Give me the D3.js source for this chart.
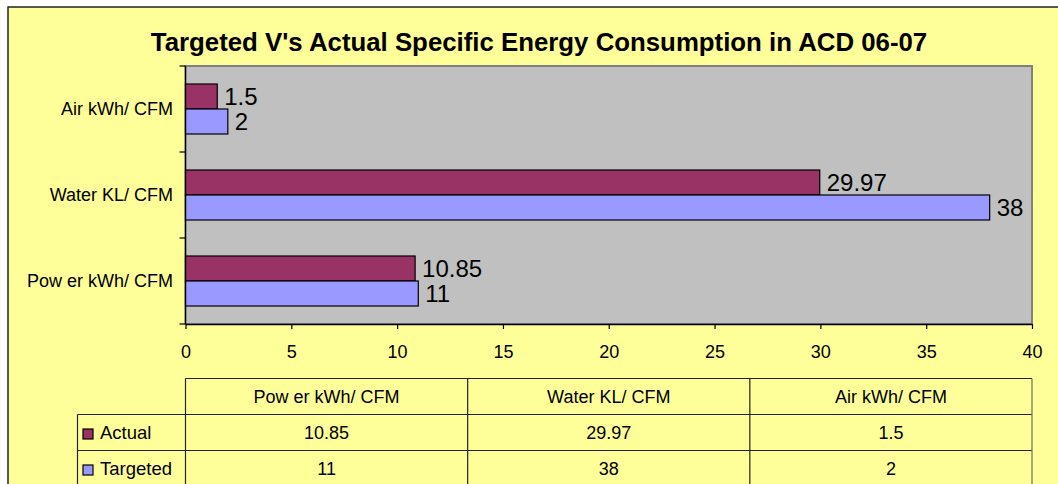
<!DOCTYPE html>
<html>
<head>
<meta charset="utf-8">
<script src="https://cdnjs.cloudflare.com/ajax/libs/d3/7.8.5/d3.min.js"></script>
<style>
  body { margin: 0; background: #fff; }
  svg { display: block; font-family: 'Liberation Sans', Arial, sans-serif; }
</style>
</head>
<body>
<svg></svg>
<script>
// Chart data
let categories = ['Pow er kWh/ CFM', 'Water KL/ CFM', 'Air kWh/ CFM'];
let seriesNames = ['Actual', 'Targeted'];
let actualValues = [10.85, 29.97, 1.5];
let targetedValues = [11, 38, 2];
let xTicks = [0, 5, 10, 15, 20, 25, 30, 35, 40];
let titleText = "Targeted V's Actual Specific Energy Consumption in ACD 06-07";

// Colors
let seriesColors = ['#993366', '#9999FF'];
let chartBg = '#FFFF99', plotBg = '#C0C0C0';

// SVG Dimensions Variables
let width = 1058, height = 484;
let plot = { left: 185.5, right: 1032, top: 66, bottom: 324 };
let table = { left: 77.5, top: 378.5, rowHeight: 36 };

let svg = d3.select('svg').attr('width', width).attr('height', height);

// Scales
let x = d3.scaleLinear().domain([0, 40]).range([plot.left, plot.right]);
let y = d3.scaleBand().domain(categories.slice().reverse()).range([plot.top, plot.bottom]);
let ySeries = d3.scaleBand().domain(seriesNames).range([0, y.bandwidth()]).paddingOuter(0.72);
let xCol = d3.scaleBand().domain(categories).range([plot.left, plot.right]);

let rows = seriesNames.map((name, i) => ({
    name: name,
    color: seriesColors[i],
    values: i === 0 ? actualValues : targetedValues
}));

// Background frame + title
function drawFrame() {
    svg.append('rect')
        .attr('x', 8).attr('y', 7)
        .attr('width', 1200).attr('height', 600)
        .attr('fill', chartBg)
        .attr('stroke', '#222').attr('stroke-width', 1.5);

    svg.append('text')
        .attr('x', 539).attr('y', 50.5)
        .attr('text-anchor', 'middle')
        .attr('font-size', 25.8)
        .attr('font-weight', 'bold')
        .text(titleText);
}

// Bars, axes, value labels
function drawPlot() {
    svg.append('rect')
        .attr('x', plot.left).attr('y', plot.top)
        .attr('width', plot.right - plot.left).attr('height', plot.bottom - plot.top)
        .attr('fill', plotBg)
        .attr('stroke', '#808080').attr('stroke-width', 2);

    let groups = svg.selectAll('g.cat')
        .data(categories)
        .enter()
        .append('g')
        .attr('class', 'cat')
        .attr('transform', (d) => 'translate(0,' + y(d) + ')');

    groups.selectAll('rect')
        .data((d, j) => rows.map((r) => ({ series: r.name, color: r.color, value: r.values[j] })))
        .enter()
        .append('rect')
        .attr('x', x(0))
        .attr('y', (d) => ySeries(d.series))
        .attr('width', (d) => x(d.value) - x(0))
        .attr('height', ySeries.bandwidth())
        .attr('fill', (d) => d.color)
        .attr('stroke', '#000')
        .attr('stroke-width', 1.2);

    groups.selectAll('text')
        .data((d, j) => rows.map((r) => ({ series: r.name, value: r.values[j] })))
        .enter()
        .append('text')
        .attr('x', (d) => x(d.value) + 7)
        .attr('y', (d) => ySeries(d.series) + ySeries.bandwidth() / 2)
        .attr('dy', '0.36em')
        .attr('font-size', 24)
        .text((d) => d.value);

    // x axis
    let xAxis = d3.axisBottom(x).tickValues(xTicks).tickSize(5).tickSizeOuter(0).tickPadding(16);
    let gx = svg.append('g')
        .attr('transform', 'translate(0,' + plot.bottom + ')')
        .call(xAxis);
    gx.select('.domain').attr('stroke', '#000').attr('stroke-width', 1.3);
    gx.selectAll('.tick line').attr('stroke', '#000').attr('stroke-width', 1.2);
    gx.selectAll('.tick text')
        .attr('font-size', 18)
        .attr('font-family', "'Liberation Sans', Arial, sans-serif")
        .attr('fill', '#000');

    // y axis: line, ticks at band edges, category labels
    svg.append('line')
        .attr('x1', plot.left).attr('x2', plot.left)
        .attr('y1', plot.top).attr('y2', plot.bottom)
        .attr('stroke', '#000').attr('stroke-width', 1.3);

    let edges = y.domain().map((c) => y(c)).concat([plot.bottom]);
    svg.selectAll('line.ytick')
        .data(edges)
        .enter()
        .append('line')
        .attr('class', 'ytick')
        .attr('x1', plot.left - 6).attr('x2', plot.left)
        .attr('y1', (d) => d).attr('y2', (d) => d)
        .attr('stroke', '#000').attr('stroke-width', 1.2);

    svg.selectAll('text.ylabel')
        .data(categories)
        .enter()
        .append('text')
        .attr('class', 'ylabel')
        .attr('x', 173)
        .attr('y', (d) => y(d) + y.bandwidth() / 2)
        .attr('dy', '0.35em')
        .attr('text-anchor', 'end')
        .attr('font-size', 18)
        .text((d) => d);
}

// Data table under the chart
function drawTable() {
    let rh = table.rowHeight;
    let colEdges = categories.map((c) => xCol(c)).concat([plot.right]);
    let lineColor = '#222';

    // horizontal lines
    svg.append('line')
        .attr('x1', plot.left).attr('x2', plot.right)
        .attr('y1', table.top).attr('y2', table.top)
        .attr('stroke', lineColor).attr('stroke-width', 1.2);
    [1, 2, 3].forEach((k) => {
        svg.append('line')
            .attr('x1', table.left).attr('x2', plot.right)
            .attr('y1', table.top + k * rh).attr('y2', table.top + k * rh)
            .attr('stroke', lineColor).attr('stroke-width', 1.2);
    });

    // vertical lines
    svg.append('line')
        .attr('x1', table.left).attr('x2', table.left)
        .attr('y1', table.top + rh).attr('y2', table.top + 3 * rh)
        .attr('stroke', lineColor).attr('stroke-width', 1.2);
    svg.selectAll('line.col')
        .data(colEdges)
        .enter()
        .append('line')
        .attr('class', 'col')
        .attr('x1', (d) => d).attr('x2', (d) => d)
        .attr('y1', table.top).attr('y2', table.top + 3 * rh)
        .attr('stroke', (d, i) => i === colEdges.length - 1 ? '#707060' : lineColor)
        .attr('stroke-width', 1.2);

    // header
    svg.selectAll('text.head')
        .data(categories)
        .enter()
        .append('text')
        .attr('class', 'head')
        .attr('x', (d) => xCol(d) + xCol.bandwidth() / 2)
        .attr('y', table.top + rh / 2)
        .attr('dy', '0.35em')
        .attr('text-anchor', 'middle')
        .attr('font-size', 18)
        .text((d) => d);

    // series rows
    rows.forEach((r, i) => {
        let cy = table.top + (i + 1) * rh + rh / 2;

        svg.append('rect')
            .attr('x', 83).attr('y', cy - 3.5)
            .attr('width', 10).attr('height', 10)
            .attr('fill', r.color)
            .attr('stroke', '#000').attr('stroke-width', 1.2);

        svg.append('text')
            .attr('x', 100)
            .attr('y', cy)
            .attr('dy', '0.35em')
            .attr('font-size', 18.5)
            .text(r.name);

        svg.selectAll(null)
            .data(r.values)
            .enter()
            .append('text')
            .attr('x', (d, j) => xCol(categories[j]) + xCol.bandwidth() / 2)
            .attr('y', cy)
            .attr('dy', '0.35em')
            .attr('text-anchor', 'middle')
            .attr('font-size', 18)
            .text((d) => d);
    });
}

drawFrame();
drawPlot();
drawTable();
</script>
</body>
</html>
